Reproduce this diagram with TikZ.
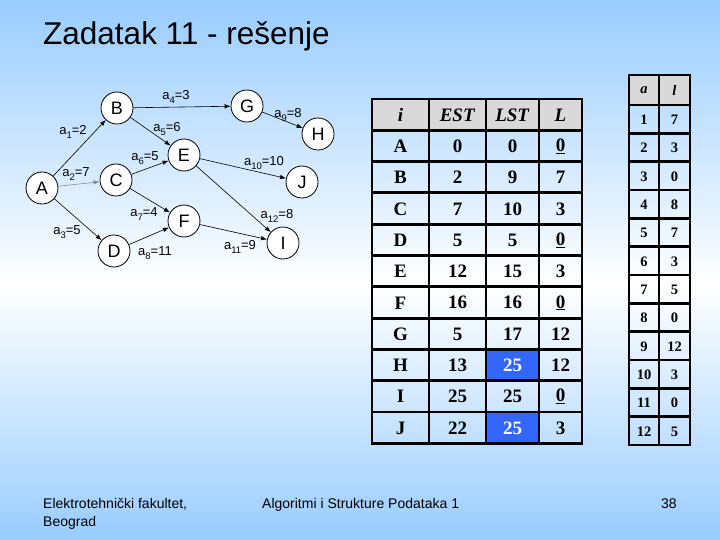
\documentclass[tikz,border=0pt]{standalone}
\usepackage{fontspec}
\setmainfont{Liberation Serif}
\newfontfamily\arial{Liberation Sans}
\usetikzlibrary{arrows.meta}
\definecolor{bgblue}{RGB}{153,204,255}
\definecolor{hdrgray}{RGB}{217,217,217}
\definecolor{cellblue}{RGB}{51,102,255}
\newcommand{\sbx}[1]{\raisebox{-3.5pt}{\fontsize{9.5}{9.5}\selectfont #1}}
\begin{document}
\begin{tikzpicture}[x=1pt,y=-1pt,
  vert/.style={circle,draw,fill=white,minimum size=32pt,inner sep=0pt,font=\arial\fontsize{18}{18}\selectfont,line width=0.8pt},
  edge/.style={-{Latex[length=6pt,width=4.5pt]},line width=0.6pt},
  elab/.style={font=\arial\fontsize{13}{13}\selectfont,inner sep=0pt},
  cell/.style={font=\bfseries\fontsize{19}{19}\selectfont,inner sep=0pt},
  scell/.style={font=\bfseries\fontsize{14.5}{14.5}\selectfont,inner sep=0pt},
  gridline/.style={line width=2.8pt},
  foot/.style={font=\arial\fontsize{14}{14}\selectfont,inner sep=0pt,anchor=base west}]
\useasboundingbox (0,0) rectangle (720,540);
\shade[top color=bgblue,bottom color=white] (0,0) rectangle (720,285);
\shade[top color=white,bottom color=bgblue] (0,284) rectangle (720,540);

\node[anchor=base west,font=\arial\fontsize{31.5}{32}\selectfont,inner sep=0pt] (title) at (43,45) {Zadatak 11 - rešenje};

% graph
\node[vert] (A) at (42,188) {A};
\node[vert] (B) at (117,108) {B};
\node[vert] (C) at (116,180) {C};
\node[vert] (D) at (114,251) {D};
\node[vert] (E) at (184,155) {E};
\node[vert] (F) at (184,221) {F};
\node[vert] (G) at (247,106) {G};
\node[vert] (H) at (318,134) {H};
\node[vert] (J) at (302,182) {J};
\node[vert] (I) at (283,243) {I};

\draw[edge] (A) -- (B);
\draw[edge,black!45] (A) -- (C);
\draw[edge] (A) -- (D);
\draw[edge] (B) -- (G);
\draw[edge] (B) -- (E);
\draw[edge] (C) -- (E);
\draw[edge] (C) -- (F);
\draw[edge] (D) -- (F);
\draw[edge] (G) -- (H);
\draw[edge] (E) -- (J);
\draw[edge] (F) -- (I);
\draw[edge] (E) -- (I);

\node[elab] (l1) at (73,132) {a\sbx{1}=2};
\node[elab] (l2) at (76,174) {a\sbx{2}=7};
\node[elab] (l3) at (67,232) {a\sbx{3}=5};
\node[elab] (l4) at (176,97) {a\sbx{4}=3};
\node[elab] (l5) at (167,129) {a\sbx{5}=6};
\node[elab] (l6) at (145,158) {a\sbx{6}=5};
\node[elab] (l7) at (144,214) {a\sbx{7}=4};
\node[elab] (l8) at (155,253) {a\sbx{8}=11};
\node[elab] (l9) at (288,115) {a\sbx{9}=8};
\node[elab] (l10) at (264,163) {a\sbx{10}=10};
\node[elab] (l11) at (240,247) {a\sbx{11}=9};
\node[elab] (l12) at (277,216) {a\sbx{12}=8};

% main table
\fill[hdrgray] (372,99) rectangle (582,130.3);
\fill[cellblue] (486,349.4) rectangle (539,380.7);
\fill[cellblue] (486,412) rectangle (539,443.3);
\foreach \k in {1,...,10} \draw[gridline] (372,99+31.3*\k) -- (582,99+31.3*\k);
\foreach \xx in {429,486,539} \draw[gridline] (\xx,99) -- (\xx,443.3);
\draw[gridline] (372,99) rectangle (582,443.3);

\node[cell] (h1) at (400.5,115) {\textit{i}};
\node[cell] (h2) at (457.5,115) {\textit{EST}};
\node[cell] (h3) at (512.5,115) {\textit{LST}};
\node[cell] (h4) at (560.5,115) {\textit{L}};
\foreach \r/\i/\e/\s/\l/\o in {1/A/0/0/{\underline{0}}/black,2/B/2/9/7/black,3/C/7/10/3/black,4/D/5/5/{\underline{0}}/black,5/E/12/15/3/black,6/F/16/16/{\underline{0}}/black,7/G/5/17/12/black,8/H/13/25/12/white,9/I/25/25/{\underline{0}}/black,10/J/22/25/3/white}{
  \node[cell] (m\r a) at (400.5,99+31.3*\r+16) {\i};
  \node[cell] (m\r b) at (457.5,99+31.3*\r+16) {\e};
  \node[cell,text=\o] (m\r c) at (512.5,99+31.3*\r+16) {\s};
  \node[cell] (m\r d) at (560.5,99+31.3*\r+16) {\l};
}

% small table
\fill[hdrgray] (629,75) rectangle (690,105);
\foreach \k in {0,...,11} \draw[gridline] (629,105+28.33*\k) -- (690,105+28.33*\k);
\draw[gridline] (659,75) -- (659,445);
\draw[gridline] (629,75) rectangle (690,445);
\node[scell] (sa) at (644,90.5) {\textit{a}};
\node[scell] (sl) at (674.5,90.5) {\textit{l}};
\foreach \r/\v in {1/7,2/3,3/0,4/8,5/7,6/3,7/5,8/0,9/12,10/3,11/0,12/5}{
  \node[scell] (s\r a) at (644,105+28.33*\r-13.5) {\r};
  \node[scell] (s\r b) at (674.5,105+28.33*\r-13.5) {\v};
}

% footer
\node[foot] (f1) at (43,508) {Elektrotehnički fakultet,};
\node[foot] (f2) at (43,526) {Beograd};
\node[foot] (f3) at (262,508) {Algoritmi i Strukture Podataka 1};
\node[foot] (f4) at (661,508) {38};
\end{tikzpicture}
\end{document}
